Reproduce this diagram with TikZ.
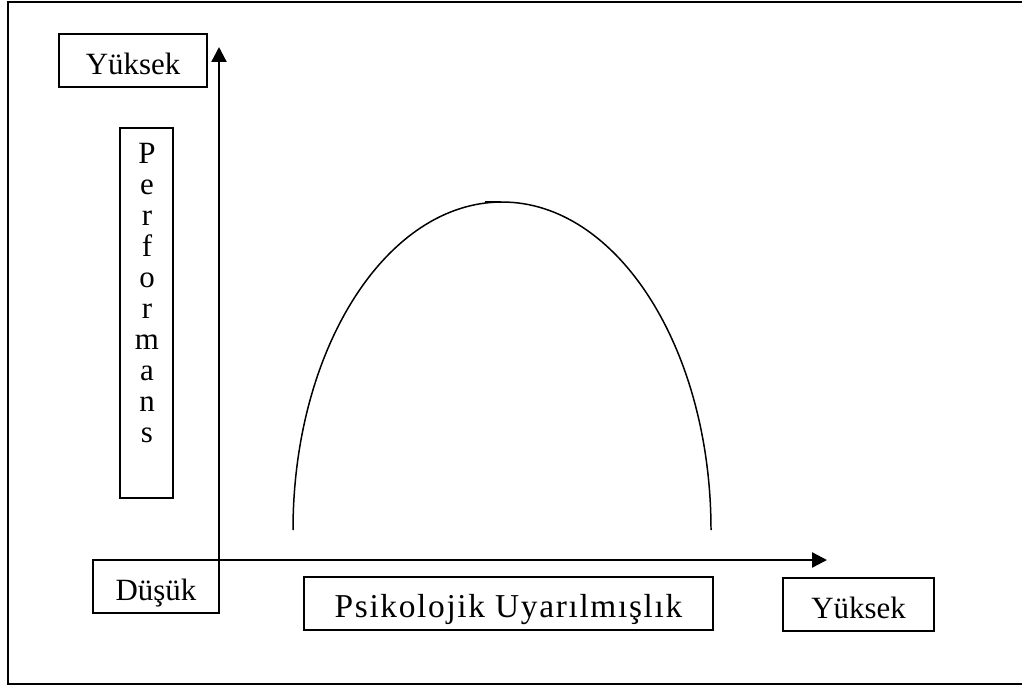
\documentclass[tikz,border=0pt]{standalone}
\usepackage{fontspec}
\setmainfont{Liberation Serif}
\usetikzlibrary{arrows.meta}

\newcommand*{\xorig}{219}
\newcommand*{\yorig}{560}
\newcommand*{\xtop}{827}
\newcommand*{\ytop}{47}

\begin{document}
\begin{tikzpicture}
[
	x=0.2mm, y=-0.2mm,
	every node/.style={font=\fontsize{17.6}{21}\selectfont},
	labelbox/.style={draw,line width=1pt,inner sep=0pt,text height=8mm,text depth=2.6mm},
	letter/.style={anchor=base,inner sep=0pt},
	axis/.style={line width=1.3pt,-{Triangle[length=3mm,width=3mm]}}
]
	\useasboundingbox (0,0) rectangle (1022,688);

	% frame
	\draw[line width=1.3pt] (1040,2) -- (8,2) -- (8,684) -- (1040,684);

	% axes
	\coordinate (origin) at (\xorig,\yorig);
	\coordinate (ytip) at (\xorig,\ytop);
	\coordinate (xtip) at (\xtop,\yorig);
	\draw[axis] (origin) -- (ytip);
	\draw[axis] (origin) -- (xtip);

	% label boxes
	\node[labelbox,minimum width=29.6mm] (yhigh) at (133,60.5) {Yüksek};
	\node[labelbox,minimum width=25.2mm] (low) at (156,586.5) {Düşük};
	\node[labelbox,minimum width=81.8mm,font=\fontsize{19}{22}\selectfont] (arousal) at (508.5,603.5)
		{\addfontfeature{LetterSpace=5}Psikolojik Uyarılmışlık};
	\node[labelbox,minimum width=30.2mm] (xhigh) at (858.5,604.5) {Yüksek};

	% vertical label
	\node[draw,line width=1pt,inner sep=0pt,minimum width=10.6mm,minimum height=74mm] (perf) at (146.5,313) {};
	\foreach \c [count=\i] in {P,e,r,f,o,r,m,a,n,s} {
		\node[letter] (perf\i) at (147,{163+31*(\i-1)}) {\c};
	}

	% curve
	\draw[line width=0.85pt] (293,530) arc[start angle=180,end angle=360,x radius=209,y radius=328];
	\draw[line width=0.85pt] (485,202) -- (501,202);

\end{tikzpicture}
\end{document}
